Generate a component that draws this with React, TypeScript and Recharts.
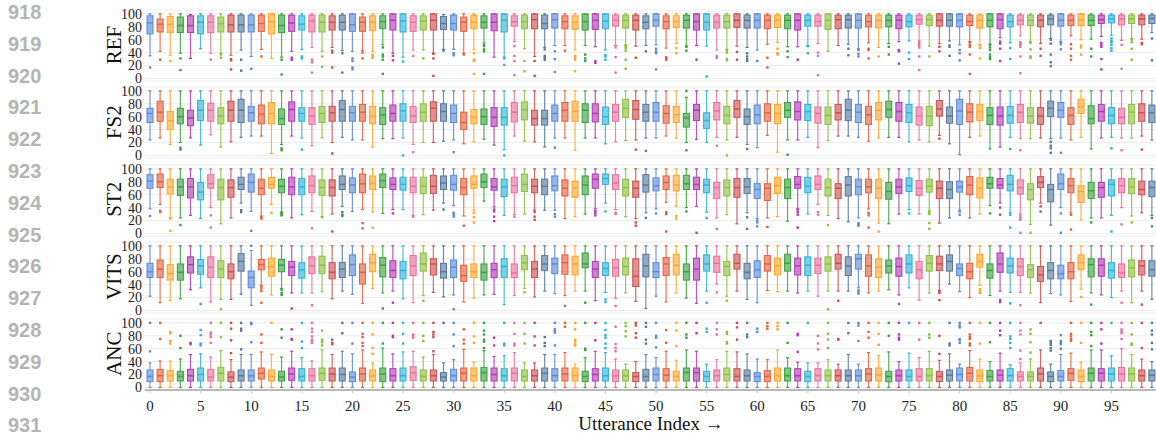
import React from 'react';
import { ComposedChart, Bar, Scatter, XAxis, YAxis, CartesianGrid } from 'recharts';

// colour cycle used for the utterances (repeats every 10)
const PALETTE = ['#5b8bd9', '#e4613f', '#ffa62b', '#3aa23f', '#b03bb5', '#2eb2d8', '#e9719d', '#8cc03f', '#cc5050', '#56799e'];

const PANEL_NAMES = ['REF', 'FS2', 'ST2', 'VITS', 'ANC'];
const X_TICKS = [0, 5, 10, 15, 20, 25, 30, 35, 40, 45, 50, 55, 60, 65, 70, 75, 80, 85, 90, 95];
const Y_TICKS = [0, 20, 40, 60, 80, 100];
const TOP_MARKS = [0, 20, 40, 60, 80];
const LINE_NUMBERS = ['918', '919', '920', '921', '922', '923', '924', '925', '926', '927', '928', '929', '930', '931'];

// ---------- REF ----------
const REF_LO = [35,42,36,39,31,46,39,39,36,44, 34,45,31,33,42,45,48,42,48,43, 42,43,42,52,39,33,44,44,39,45, 45,39,45,55,33,33,57,46,34,48, 51,51,44,51,49,44,51,52,50,51, 52,47,54,50,51,50,44,45,50,48, 44,53,56,49,49,51,54,42,51,53, 46,55,48,54,57,58,58,50,54,58, 52,57,52,53,63,55,66,57,54,62, 57,66,60,61,65,67,59,62,61,71];
const REF_Q1 = [69,72,71,71,71,69,71,72,72,72, 72,73,69,71,73,75,72,72,75,75, 73,73,74,77,75,72,73,75,75,76, 75,73,77,78,74,72,81,77,77,77, 78,77,76,75,76,77,81,78,75,77, 81,77,79,78,75,75,78,78,79,78, 78,77,79,77,75,81,81,76,77,78, 78,80,78,80,77,80,84,82,81,81, 80,82,78,80,77,80,83,82,80,83, 81,82,82,82,85,86,83,85,83,85];
const REF_MED = [86,84,84,82,82,87,87,85,83,83, 83,85,88,82,86,84,89,87,87,87, 83,87,87,88,90,89,87,89,90,85, 85,87,87,87,87,90,88,88,91,85, 91,88,87,88,90,89,90,90,90,87, 90,88,88,90,88,87,87,88,90,90, 90,90,90,90,90,90,88,90,91,91, 90,88,90,90,90,88,91,91,90,90, 90,88,90,90,91,88,90,90,90,92, 90,90,91,90,91,92,92,92,92,93];
const REF_Q3 = [97,92,96,95,97,97,97,95,98,98, 98,98,100,98,98,97,98,98,97,98, 100,95,97,97,100,100,97,97,100,96, 98,95,98,97,100,100,97,98,100,98, 100,97,97,100,100,100,98,98,98,97, 100,97,97,98,100,100,98,98,100,98, 100,98,98,98,100,98,98,100,98,98, 100,98,98,98,98,98,98,98,100,100, 100,98,98,100,100,98,98,98,98,98, 100,98,100,98,98,98,98,98,98,98];
const REF_HI = [100,100,100,100,99,100,100,100,100,100, 100,100,100,100,100,100,100,100,100,100, 100,100,100,100,100,100,100,100,100,99, 100,100,100,100,100,100,100,100,100,100, 100,100,100,100,100,100,100,100,100,100, 100,100,100,100,100,100,100,100,100,100, 100,100,100,100,100,100,100,100,100,100, 100,100,100,100,100,100,100,100,100,100, 100,100,100,100,100,100,100,100,100,100, 100,100,100,100,100,100,100,100,100,100];
const REF_OUT: [number, number[]][] = [[0,[17]],[1,[29]],[2,[27]],[3,[31,13]],[6,[29]],[7,[37,32]],[8,[30,28,14]],[9,[29,12]],[10,[15]],[11,[34]],[13,[29,6]],[14,[32,29]],[15,[34,31]],[16,[29,25,9]],[17,[34,18]],[18,[43,40,17]],[19,[39,9]],[20,[31,27,17,14]],[21,[40,31]],[22,[37,34,32]],[23,[48,37,34,29,7]],[24,[35,28]],[25,[26]],[26,[35]],[27,[31]],[28,[38,31,4]],[29,[43]],[30,[39,36]],[31,[37]],[32,[39,29,27,7]],[33,[52,50,45,42,7]],[35,[31,21]],[36,[50,35,27,5]],[37,[27,11]],[38,[27,4]],[39,[45,35,32,29]],[40,[42,30,10]],[41,[43]],[42,[35,32,29,11]],[43,[37,31,27]],[44,[27,24]],[45,[36,34,29]],[46,[48,33,9]],[47,[50,47,43,29,15]],[48,[32]],[49,[42]],[50,[46,42,39,14]],[51,[33,30,29]],[52,[47,39]],[53,[49,43]],[54,[29]],[55,[3]],[56,[35,32]],[57,[43,40,30,28]],[58,[41,29]],[59,[39,34,30,27]],[60,[27]],[61,[32,17]],[62,[46,39,37]],[63,[42,33]],[64,[29]],[65,[50,39]],[66,[40,35,5]],[69,[46,36]],[70,[44,38,34]],[71,[46,44,31]],[72,[34]],[73,[49,37]],[74,[44,42,23]],[75,[40,30]],[76,[56,53,51,48,34,13]],[77,[34]],[78,[49,42]],[79,[51,49,35]],[80,[44,39,28]],[81,[56,52,49,37,7]],[82,[51,47,31]],[83,[52,48,44,37,33,30]],[84,[57,54,46,27]],[85,[47,30]],[86,[56,54,52,49,34,8]],[87,[55,45,34,32]],[88,[46,35]],[89,[60,54,37,25,19]],[90,[56,53,45]],[91,[53,46,35,29]],[92,[51,48,37]],[93,[46,34]],[94,[55,52,49,30,14]],[95,[62,58,56,52,47,43]],[96,[52,15]],[97,[60,56,46,29]],[98,[55,53]],[99,[62,28]]];

// ---------- FS2 ----------
const FS2_LO = [24,27,17,20,27,16,32,13,21,28, 30,30,3,17,30,27,15,27,20,28, 24,24,13,26,26,27,17,20,20,22, 24,18,21,25,16,9,30,22,21,13, 27,27,8,27,27,18,21,23,24,27, 27,30,27,20,25,20,28,24,28,17, 12,31,5,24,24,28,12,23,30,30, 28,22,27,28,28,21,24,21,31,18, 1,28,30,10,13,28,26,26,27,26, 27,24,28,10,27,28,27,27,30,24];
const FS2_Q1 = [51,53,40,49,46,54,53,49,53,51, 53,49,49,48,53,53,48,51,53,53, 53,53,49,48,53,53,51,53,53,53, 51,40,49,48,45,47,52,55,47,47, 53,53,53,51,52,48,53,59,56,53, 53,50,51,44,54,42,55,49,59,48, 49,53,49,59,55,54,50,48,55,54, 51,48,55,59,53,51,47,46,61,50, 48,52,54,48,47,50,51,50,48,60, 59,48,65,49,53,49,49,49,53,51];
const FS2_MED = [65,67,54,60,58,70,70,61,70,70, 66,64,65,57,71,65,61,65,66,71, 66,67,61,63,65,69,61,67,73,68, 65,51,59,60,59,59,67,71,57,57, 65,70,68,70,65,60,67,73,71,67, 67,65,63,58,70,54,69,62,72,60, 63,66,65,70,68,68,65,62,66,70, 67,63,70,71,68,66,61,61,72,61, 69,67,68,62,61,62,67,61,61,73, 70,62,75,57,68,62,59,67,66,66];
const FS2_Q3 = [73,84,68,73,70,85,81,74,84,87, 76,78,82,72,83,74,74,76,76,85, 76,79,76,74,78,80,76,80,83,80, 78,67,71,72,74,74,82,83,70,70, 78,82,84,80,80,75,79,87,85,79, 82,77,76,65,79,66,82,76,85,72, 78,80,79,82,83,79,75,75,79,87, 79,76,82,84,82,79,75,76,85,75, 87,80,79,74,75,76,79,74,74,84, 82,74,87,77,79,74,73,79,80,78];
const FS2_HI = [100,100,100,100,100,100,100,100,100,100, 100,100,100,100,100,100,100,100,100,100, 100,100,100,100,100,100,100,100,100,100, 100,100,100,100,100,100,100,100,100,100, 100,100,100,100,100,100,100,100,100,100, 100,100,100,90,100,100,100,100,100,100, 100,100,100,100,100,100,100,100,100,100, 100,100,100,100,100,100,100,100,100,100, 100,100,100,100,100,100,100,100,100,100, 100,100,100,100,100,100,100,100,100,100];
const FS2_OUT: [number, number[]][] = [[3,[12,9]],[13,[11,8]],[15,[9]],[18,[3]],[25,[0]],[26,[5]],[30,[5]],[35,[0]],[40,[12]],[48,[9]],[49,[7]],[53,[8,100]],[56,[15]],[57,[0]],[59,[10]],[63,[1]],[78,[26]],[85,[10]],[86,[8]],[89,[21,15,11,4]],[90,[4]],[95,[11]],[96,[8]],[98,[9]]];

// ---------- ST2 ----------
const ST2_LO = [38,45,24,24,28,23,40,15,24,47, 34,27,45,33,24,29,34,26,30,42, 34,37,33,31,37,37,28,29,36,47, 43,27,36,50,41,28,29,30,36,36, 36,23,26,30,38,47,37,26,23,32, 38,48,42,40,42,33,24,29,15,32, 23,24,26,19,38,30,45,28,23,18, 24,38,16,15,30,37,30,36,16,24, 36,24,30,43,47,32,30,14,47,13, 40,32,21,24,24,28,40,27,32,28];
const ST2_Q1 = [70,71,61,59,55,52,70,52,56,68, 64,60,70,63,60,60,63,59,58,68, 63,63,68,71,68,67,63,62,62,68, 67,60,70,71,67,57,63,65,63,60, 66,58,56,60,70,76,68,58,56,64, 66,68,66,68,68,63,54,58,56,62, 54,51,62,54,70,63,68,58,54,58, 60,63,54,53,62,65,59,64,54,54, 64,60,55,70,70,66,61,52,71,49, 68,63,48,54,56,58,63,62,60,57];
const ST2_MED = [81,80,72,72,72,64,77,71,71,76, 79,70,76,73,72,72,74,71,71,76, 75,77,77,82,76,76,73,73,73,78, 76,71,76,80,72,72,74,76,73,73, 74,70,71,75,84,85,78,71,70,75, 74,79,75,77,76,75,71,71,71,72, 68,70,74,71,76,73,76,71,70,75, 72,72,70,65,72,74,70,73,70,68, 72,75,70,77,75,76,71,68,79,68, 77,74,65,66,71,76,74,72,68,71];
const ST2_Q3 = [91,92,84,84,85,79,91,84,83,87, 92,84,87,84,87,85,89,83,83,89, 86,92,89,92,86,87,87,87,90,89, 90,85,89,92,85,84,87,92,84,84, 89,83,81,89,92,92,91,84,81,91, 86,89,90,90,87,84,79,83,85,85, 77,77,87,84,88,87,89,84,77,88, 84,84,84,79,84,86,82,84,81,80, 81,88,86,87,85,90,83,77,88,76, 92,85,74,79,79,83,85,85,81,81];
const ST2_HI = [100,100,100,100,100,100,100,100,100,100, 100,100,100,100,100,100,100,100,100,100, 100,100,100,100,100,100,100,100,100,100, 100,100,100,100,100,100,100,100,100,100, 100,100,100,100,100,100,100,100,100,100, 100,100,100,100,100,100,100,100,100,100, 100,100,100,100,100,100,100,100,100,100, 100,100,100,100,100,100,100,100,100,100, 100,100,100,100,100,100,100,100,100,100, 100,100,100,100,100,100,100,100,100,100];
const ST2_OUT: [number, number[]][] = [[0,[27]],[1,[35,33]],[2,[23,4]],[3,[13]],[6,[28,9]],[9,[36,33]],[10,[4]],[11,[25,23]],[12,[32]],[13,[32,29,28]],[16,[8]],[17,[25]],[18,[3]],[19,[33,29,27]],[21,[16,8]],[22,[9]],[24,[31]],[26,[26]],[29,[37]],[30,[32,29,26]],[31,[12]],[32,[32,25,17]],[34,[37,34,26,19]],[36,[26]],[38,[33,26,21]],[40,[30,26]],[44,[35,32,28]],[45,[34]],[46,[32,30]],[48,[17,12]],[49,[24]],[50,[31]],[51,[33,30,3]],[52,[27,23]],[53,[34]],[54,[1]],[55,[24]],[56,[7]],[59,[25,7]],[60,[20,17,11]],[61,[10]],[64,[37,33,29,9]],[66,[33,29]],[67,[13]],[70,[16,14,12]],[71,[32,28,9]],[72,[3]],[75,[31]],[77,[33,30,16,7]],[80,[34,29]],[83,[31]],[84,[40,29]],[85,[29,9]],[86,[27,24,21,1]],[87,[1]],[88,[42,34]],[90,[31,1]],[91,[29,6]],[93,[17]],[95,[3]],[96,[14]],[97,[17]],[99,[24,11]]];

// ---------- VITS ----------
const VITS_LO = [22,12,15,18,32,35,13,17,17,25, 8,39,24,34,27,27,27,29,18,30, 25,11,34,27,30,18,12,23,28,21, 24,13,19,24,25,9,23,34,21,30, 26,23,30,30,15,28,19,27,14,3, 22,13,27,19,11,30,41,22,30,17, 12,31,29,30,27,30,22,30,30,30, 35,27,30,32,24,35,16,27,31,41, 29,20,39,23,30,28,28,27,12,26, 24,14,33,27,24,20,30,12,30,17];
const VITS_Q1 = [51,51,47,47,58,56,51,51,49,61, 35,63,53,60,54,50,57,57,49,51, 54,41,60,52,51,49,54,61,55,50, 51,45,51,47,51,51,51,63,51,62, 57,56,55,66,51,54,53,55,37,52, 51,54,55,47,47,61,59,54,64,49, 51,61,55,61,55,54,57,61,64,54, 64,53,51,58,53,58,49,61,62,61, 54,49,67,50,59,58,54,51,45,49, 49,49,63,52,53,50,51,52,55,53];
const VITS_MED = [60,64,57,59,71,69,67,64,60,76, 51,71,68,70,67,63,69,70,59,64, 71,59,74,70,62,62,69,72,72,60, 67,54,60,59,63,68,58,74,64,72, 72,74,72,72,64,65,66,68,53,69, 60,72,70,60,64,72,73,68,73,59, 63,72,69,73,69,70,70,72,73,69, 80,69,67,69,68,72,63,73,72,76, 65,60,76,62,72,69,68,63,55,62, 57,60,74,71,70,62,58,66,69,63];
const VITS_Q3 = [73,78,71,72,83,79,83,77,72,88, 61,79,81,79,76,74,83,84,74,74, 86,72,87,82,77,76,85,89,80,73, 78,70,72,72,73,80,72,85,76,85, 81,86,84,89,76,74,79,81,80,87, 74,82,87,72,81,86,84,76,87,73, 77,85,81,87,81,83,81,83,87,83, 87,86,80,78,81,86,76,85,84,86, 72,73,87,72,89,81,80,71,68,74, 70,74,86,80,80,74,72,78,77,77];
const VITS_HI = [100,100,100,100,100,100,100,100,100,100, 93,100,100,100,100,100,100,100,100,100, 100,100,100,100,100,100,100,100,100,100, 100,100,100,100,100,100,100,100,100,100, 100,100,100,100,100,100,100,100,100,100, 100,100,100,100,100,100,100,100,100,100, 100,100,100,100,100,100,100,100,100,100, 100,100,100,100,100,100,100,100,100,100, 100,100,100,100,100,100,100,100,100,100, 100,100,100,100,100,100,100,100,100,100];
const VITS_OUT: [number, number[]][] = [[5,[10]],[7,[2]],[10,[100]],[11,[37,34,30,12]],[13,[32,27,24]],[14,[3]],[16,[8]],[23,[3]],[24,[12]],[27,[15]],[30,[2]],[37,[28]],[41,[7]],[43,[12]],[45,[17,13]],[46,[7]],[55,[12]],[56,[28]],[57,[15]],[67,[2]],[68,[15]],[70,[31,29,26]],[74,[10]],[78,[30,27,16]],[82,[33,30,27]],[84,[16,13]],[85,[11]],[86,[8]],[92,[21]],[93,[9]],[96,[12]],[98,[9]]];

// ---------- ANC ----------
const ANC_LO = [0,0,0,0,0,0,0,0,0,0, 0,0,0,0,0,0,0,0,0,0, 0,0,0,0,0,0,0,0,0,0, 0,0,0,0,0,0,0,0,0,0, 0,0,0,0,0,0,0,0,0,0, 0,0,0,0,0,0,0,0,0,0, 0,0,0,0,0,0,0,0,0,0, 0,0,0,0,0,0,0,0,0,0, 0,0,0,0,0,0,0,0,0,0, 0,0,0,0,0,0,0,0,0,0];
const ANC_Q1 = [9,9,10,10,10,10,10,10,9,10, 10,13,10,10,11,10,10,11,10,10, 9,10,10,9,10,10,11,10,10,10, 10,10,10,10,10,10,10,10,10,10, 10,10,10,9,10,10,9,10,9,10, 10,10,10,10,10,9,10,10,10,10, 9,9,10,10,10,9,10,10,10,10, 10,10,10,9,10,10,10,10,9,10, 10,10,9,10,10,10,10,10,10,9, 10,11,9,10,10,10,10,10,10,10];
const ANC_MED = [17,18,18,17,18,20,16,22,16,18, 18,22,17,16,21,17,18,22,21,20, 16,21,18,21,18,18,23,17,18,16, 18,22,18,23,20,18,22,17,18,22, 18,21,18,17,20,18,18,18,17,17, 20,19,17,23,23,17,18,20,17,18, 17,17,18,18,18,17,18,18,18,18, 18,21,19,17,18,17,17,18,17,19, 20,22,18,17,19,18,17,17,21,17, 17,22,17,22,22,21,21,21,18,19];
const ANC_Q3 = [27,28,26,25,28,30,28,31,24,27, 27,30,27,25,30,29,29,30,30,30, 24,30,27,30,29,30,32,27,27,23, 28,30,30,31,30,29,30,27,27,30, 29,30,30,25,29,30,27,27,23,28, 30,29,25,30,30,25,27,30,29,27, 23,26,30,30,29,25,29,27,27,27, 27,29,30,25,27,27,29,29,25,27, 30,31,27,26,27,29,24,24,30,24, 26,29,27,30,29,30,31,30,27,27];
const ANC_HI = [38,41,41,44,51,52,47,57,43,51, 51,55,51,47,56,46,41,58,51,56, 52,58,38,61,52,55,56,47,51,38, 43,59,39,57,48,49,54,38,38,51, 51,54,36,46,56,54,44,36,40,51, 46,56,42,58,56,36,43,56,55,52, 44,43,58,46,39,38,38,43,36,51, 36,54,49,55,40,53,46,56,42,52, 36,57,44,40,53,35,38,44,58,36, 51,53,39,58,58,49,60,51,44,40];
const ANC_OUT: [number, number[]][] = [[0,[56,100]],[1,[75,100]],[2,[68,72,84,86]],[3,[61,80]],[4,[67,69]],[5,[65,68,81,89]],[6,[69,78,82,85,100]],[7,[78,100]],[8,[53,73,91,100]],[9,[59,88,91,100]],[10,[70,98,100]],[11,[69,82]],[12,[100]],[13,[77,90]],[14,[74,75,90]],[15,[61,71,100]],[16,[69,72,74,79,86,91,100]],[17,[65,70,73,74,88]],[18,[67,69,74]],[19,[84,100]],[20,[68,100]],[21,[64,69,78,83,100]],[22,[52,61,82,100]],[23,[68,100]],[24,[78,80,100]],[25,[68,83,100]],[26,[77,80,82,100]],[27,[72,80,100]],[28,[56,78,82,86,100]],[29,[100]],[30,[64,82,100]],[31,[68,74,90]],[32,[69,79,100]],[33,[61,71,74,82,88,100]],[34,[65,77]],[35,[65,68,100]],[36,[65,68,83,100]],[37,[68,83,100]],[38,[65,79,100]],[39,[64,69,78]],[40,[65,85,88,90,100]],[41,[94,100]],[42,[65,68,72,74,90,100]],[43,[58,60,100]],[44,[73,100]],[45,[61,68,77,81,89,100]],[46,[56,61,67,94]],[47,[79,87,95,100]],[48,[77,84,96,100]],[49,[68,74,94,100]],[50,[62,77,80,100]],[51,[69,89]],[52,[64,88,100]],[53,[77,82,100]],[54,[84,100]],[55,[86,91]],[56,[82,90,100]],[57,[68,70,83,86]],[58,[74,93,100]],[59,[78,82,100]],[60,[86,91]],[61,[91,95,100]],[62,[90,95,100]],[63,[69,100]],[64,[55,81,83]],[65,[100]],[66,[59,68,80]],[67,[61,74,83,100]],[68,[74,75]],[69,[84,100]],[70,[72,96,100]],[71,[77,86,100]],[72,[66,83,100]],[73,[80,100]],[74,[74,77,82,100]],[75,[100]],[76,[74,100]],[77,[77,82,100]],[78,[52,80]],[79,[65,68,100]],[80,[69,73,75,93,96,100]],[81,[65,68,75,78,82,100]],[82,[68,100]],[83,[70,100]],[84,[81,88,100]],[85,[61,69,75,79,100]],[86,[44,57,82,88,100]],[87,[54,70,83,90]],[88,[100]],[89,[57,61,66,69,72]],[90,[60,67,69,72,81]],[91,[72,75,79,83,100]],[92,[69,100]],[93,[64,81,86,100]],[94,[68,90,100]],[95,[100]],[96,[75,84,87,90,100]],[97,[66,68,82,100]],[98,[61,100]],[99,[59,69,82,88,100]]];

const SERIF = '"Liberation Serif", "Times New Roman", serif';
const CHART_W = 1157;
const Y_AXIS_W = 145;
const PLOT_TOP0 = 10.1;
const PITCH = 77.2;
const PLOT_H = 71;
const PAD = 6;
const BOTTOM_PAD = 9;
const Y_DOMAIN: [number, number] = [-4, 106];

const buildRows = (lo: number[], q1: number[], med: number[], q3: number[], hi: number[]) =>
  lo.map((l, i) => ({ idx: i, range: [l, hi[i]], lo: l, q1: q1[i], med: med[i], q3: q3[i], hi: hi[i] }));

const buildOutliers = (out: [number, number[]][]) =>
  out.flatMap(([i, vals]) => vals.map((v) => ({ idx: i, v })));

const PANELS = [
  { rows: buildRows(REF_LO, REF_Q1, REF_MED, REF_Q3, REF_HI), out: buildOutliers(REF_OUT) },
  { rows: buildRows(FS2_LO, FS2_Q1, FS2_MED, FS2_Q3, FS2_HI), out: buildOutliers(FS2_OUT) },
  { rows: buildRows(ST2_LO, ST2_Q1, ST2_MED, ST2_Q3, ST2_HI), out: buildOutliers(ST2_OUT) },
  { rows: buildRows(VITS_LO, VITS_Q1, VITS_MED, VITS_Q3, VITS_HI), out: buildOutliers(VITS_OUT) },
  { rows: buildRows(ANC_LO, ANC_Q1, ANC_MED, ANC_Q3, ANC_HI), out: buildOutliers(ANC_OUT) },
];

// box drawn inside the range bar [lo, hi]; inner positions follow the bar's own scale
const BoxShape = (props: any) => {
  const { x, y, width, height, payload } = props;
  if (!payload || payload.hi === payload.lo) return null;
  const { lo, q1, med, q3, hi, idx } = payload;
  const py = (v: number) => y + (height * (hi - v)) / (hi - lo);
  const c = PALETTE[idx % 10];
  const cx = x + width / 2;
  return (
    <g>
      <line x1={cx} x2={cx} y1={py(hi)} y2={py(q3)} stroke={c} strokeWidth={1.2} strokeOpacity={0.85} />
      <line x1={cx} x2={cx} y1={py(q1)} y2={py(lo)} stroke={c} strokeWidth={1.2} strokeOpacity={0.85} />
      <line x1={cx - 1.5} x2={cx + 1.5} y1={py(hi)} y2={py(hi)} stroke={c} strokeWidth={1.2} />
      <line x1={cx - 1.5} x2={cx + 1.5} y1={py(lo)} y2={py(lo)} stroke={c} strokeWidth={1.2} />
      <rect x={x - 0.5} y={py(q3) - 0.5} width={width + 1} height={py(q1) - py(q3) + 1} fill={c} fillOpacity={0.18} />
      <rect x={x} y={py(q3)} width={width} height={py(q1) - py(q3)} fill={c} fillOpacity={0.55} stroke={c} strokeWidth={1} />
      <line x1={x} x2={x + width} y1={py(med)} y2={py(med)} stroke={c} strokeWidth={1.5} />
    </g>
  );
};

const Outlier = (props: any) => {
  const { cx, cy, payload } = props;
  if (cx == null || cy == null) return null;
  return <rect x={cx - 1.2} y={cy - 1.2} width={2.4} height={2.4} fill={PALETTE[payload.idx % 10]} />;
};

const Panel = ({ k }: { k: number }) => {
  const last = k === PANELS.length - 1;
  const { rows, out } = PANELS[k];
  const height = PAD + PLOT_H + (last ? 45 : BOTTOM_PAD);
  return (
    <div style={{ position: 'absolute', left: 0, top: PLOT_TOP0 + k * PITCH - PAD }}>
      <ComposedChart width={CHART_W} height={height} data={rows} margin={{ top: PAD, right: 0, bottom: last ? 0 : BOTTOM_PAD, left: 0 }}>
        <CartesianGrid vertical={false} stroke="#ececec" />
        {last ? (
          <XAxis
            type="number"
            dataKey="idx"
            domain={[-0.5, 99.5]}
            allowDataOverflow
            ticks={X_TICKS}
            interval={0}
            height={45}
            axisLine={{ stroke: '#b8b8b8', strokeWidth: 2 }}
            tickLine={{ stroke: '#c4c4c4' }}
            tickSize={3}
            tickMargin={7}
            tick={{ fontSize: 15, fill: '#222', fontFamily: SERIF }}
          />
        ) : (
          <XAxis
            type="number"
            dataKey="idx"
            orientation="top"
            domain={[-0.5, 99.5]}
            allowDataOverflow
            ticks={k === 0 ? [] : TOP_MARKS}
            interval={0}
            height={0}
            axisLine={k === 0 ? { stroke: '#b8b8b8', strokeWidth: 1.5 } : false}
            tickLine={k === 0 ? false : { stroke: '#d0d0d0' }}
            tickSize={3}
            tick={false}
          />
        )}
        {last && (
          <XAxis
            xAxisId="marks"
            type="number"
            dataKey="idx"
            orientation="top"
            domain={[-0.5, 99.5]}
            allowDataOverflow
            ticks={TOP_MARKS}
            interval={0}
            height={0}
            axisLine={false}
            tickLine={{ stroke: '#d0d0d0' }}
            tickSize={3}
            tick={false}
          />
        )}
        <YAxis
          type="number"
          domain={Y_DOMAIN}
          allowDataOverflow
          ticks={Y_TICKS}
          interval={0}
          width={Y_AXIS_W}
          axisLine={false}
          tickLine={false}
          tickSize={0}
          tickMargin={3}
          tick={{ fontSize: 14, fill: '#222', fontFamily: SERIF }}
        />
        <Bar dataKey="range" barSize={6} shape={BoxShape} isAnimationActive={false} />
        <Scatter data={out} dataKey="v" shape={Outlier} isAnimationActive={false} />
      </ComposedChart>
    </div>
  );
};

export default function App() {
  return (
    <div style={{ position: 'absolute', left: 0, top: 0, width: 1156, height: 435, background: '#fff', overflow: 'hidden' }}>
      {PANELS.map((_, k) => (
        <Panel key={k} k={k} />
      ))}
      <svg width={1156} height={435} style={{ position: 'absolute', left: 0, top: 0, pointerEvents: 'none' }}>
        {LINE_NUMBERS.map((n, i) => (
          <text key={n} x={8} y={12 + i * 31.8} dominantBaseline="central" fontFamily='"Liberation Sans", Arial, sans-serif' fontSize={20} fontWeight="bold" fill="#b4b4b4">
            {n}
          </text>
        ))}
        {PANEL_NAMES.map((name, k) => {
          const cy = PLOT_TOP0 + k * PITCH + ((Y_DOMAIN[1] - 52) / (Y_DOMAIN[1] - Y_DOMAIN[0])) * PLOT_H;
          return (
            <text key={name} x={113.7} y={cy} transform={`rotate(-90 113.7 ${cy})`} textAnchor="middle" dominantBaseline="central" fontFamily={SERIF} fontSize={21} fill="#111">
              {name}
            </text>
          );
        })}
        <text x={651} y={423} textAnchor="middle" dominantBaseline="central" fontFamily={SERIF} fontSize={19} fill="#111">
          Utterance Index →
        </text>
      </svg>
    </div>
  );
}
